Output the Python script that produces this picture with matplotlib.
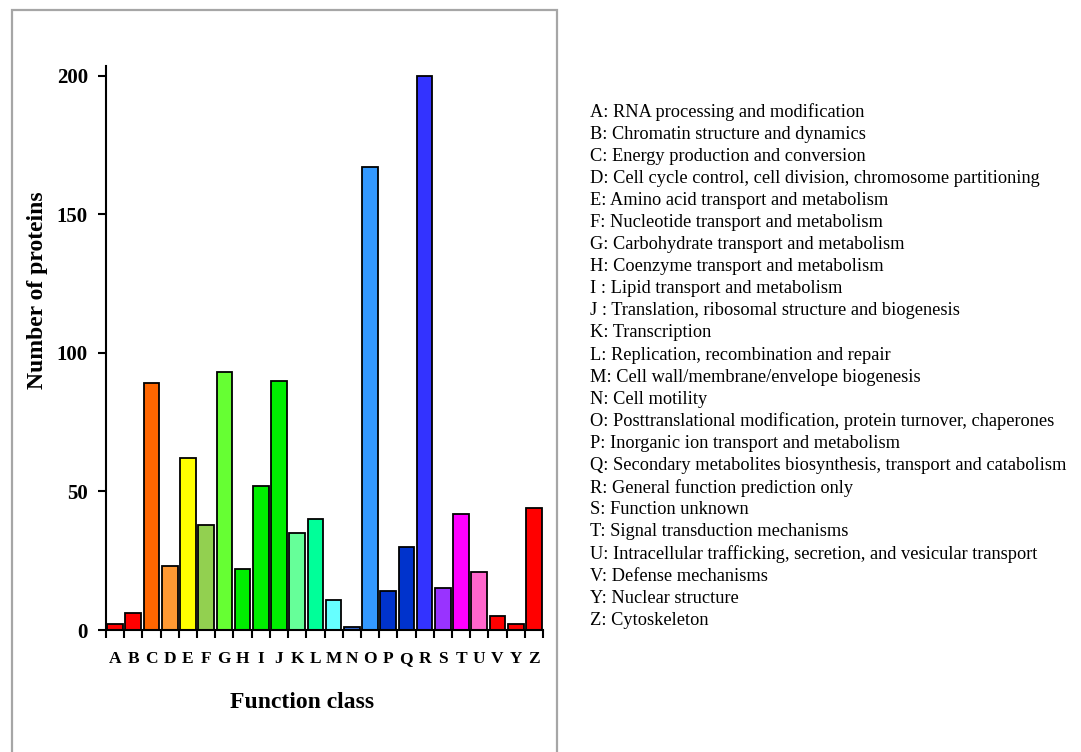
import matplotlib
matplotlib.use("Agg")
import matplotlib.pyplot as plt
from matplotlib.patches import Rectangle

categories = ["A", "B", "C", "D", "E", "F", "G", "H", "I", "J", "K", "L",
              "M", "N", "O", "P", "Q", "R", "S", "T", "U", "V", "Y", "Z"]
counts = [2, 6, 89, 23, 62, 38, 93, 22, 52, 90, 35, 40,
          11, 1, 167, 14, 30, 200, 15, 42, 21, 5, 2, 44]
colors = ["#FF0000", "#FF0000", "#FF6600", "#FF9933", "#FFFF00", "#92D050",
          "#66FF33", "#00EE00", "#00EE00", "#00EE00", "#66FF99", "#00FF99",
          "#66FFFF", "#3366CC", "#3399FF", "#0033CC", "#0033CC", "#3333FF",
          "#9933FF", "#FF00FF", "#FF66CC", "#FF0000", "#FF0000", "#FF0000"]
descriptions = [
    "A: RNA processing and modification",
    "B: Chromatin structure and dynamics",
    "C: Energy production and conversion",
    "D: Cell cycle control, cell division, chromosome partitioning",
    "E: Amino acid transport and metabolism",
    "F: Nucleotide transport and metabolism",
    "G: Carbohydrate transport and metabolism",
    "H: Coenzyme transport and metabolism",
    "I : Lipid transport and metabolism",
    "J : Translation, ribosomal structure and biogenesis",
    "K: Transcription",
    "L: Replication, recombination and repair",
    "M: Cell wall/membrane/envelope biogenesis",
    "N: Cell motility",
    "O: Posttranslational modification, protein turnover, chaperones",
    "P: Inorganic ion transport and metabolism",
    "Q: Secondary metabolites biosynthesis, transport and catabolism",
    "R: General function prediction only",
    "S: Function unknown",
    "T: Signal transduction mechanisms",
    "U: Intracellular trafficking, secretion, and vesicular transport",
    "V: Defense mechanisms",
    "Y: Nuclear structure",
    "Z: Cytoskeleton",
]
yticks = [0, 50, 100, 150, 200]

plt.rcParams['font.family'] = ['Liberation Serif', 'DejaVu Serif']

W, H = 1081, 752
fig = plt.figure(figsize=(W / 100, H / 100), dpi=100)

# outer frame around chart panel
frame = Rectangle((11.5 / W, -0.05), (557 - 11.5) / W, 1.05 - 10 / H,
                  transform=fig.transFigure, fill=False,
                  edgecolor="#A6A6A6", linewidth=1.6)
fig.patches.append(frame)

ax = fig.add_axes([106 / W, 1 - 630 / H, (543 - 106) / W, (630 - 66) / H])
x = list(range(len(categories)))
ax.bar(x, counts, width=0.86, color=colors, edgecolor="black", linewidth=1.3)

ax.set_xlim(-0.5, len(categories) - 0.5)
ax.set_ylim(0, 203.6)
for s in ["top", "right"]:
    ax.spines[s].set_visible(False)
ax.spines["left"].set_linewidth(1.5)
ax.spines["bottom"].set_linewidth(1.5)

ax.set_yticks(yticks)
ax.set_yticklabels([str(v) for v in yticks], fontsize=15, fontweight="bold")
ax.tick_params(axis="y", direction="out", length=6, width=1.5, pad=7)

ax.set_xticks([i - 0.5 for i in range(len(categories) + 1)])
ax.set_xticklabels([])
ax.tick_params(axis="x", which="major", direction="out", length=6, width=1.5)
ax.set_xticks(x, minor=True)
ax.set_xticklabels(categories, minor=True, fontsize=12.5, fontweight="bold")
ax.tick_params(axis="x", which="minor", length=0, pad=15)

fig.text(302 / W, 1 - 703 / H, "Function class", fontsize=17,
         fontweight="bold", ha="center", va="center")
fig.text(38 / W, 1 - 290 / H, "Number of proteins", fontsize=17,
         fontweight="bold", ha="center", va="center", rotation=90)

for i, d in enumerate(descriptions):
    fig.text(590 / W, 1 - (112 + 22.1 * i) / H, d, fontsize=13.2,
             ha="left", va="center")

fig.savefig("out.png", dpi=100)
